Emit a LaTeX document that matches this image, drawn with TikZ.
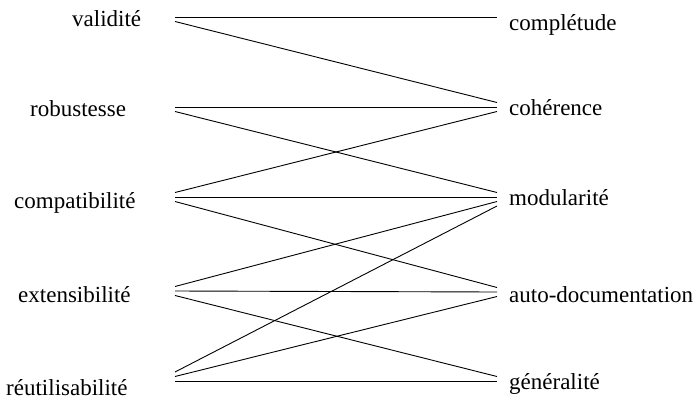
\documentclass[tikz,border=0pt]{standalone}
\usepackage{fontspec}
\setmainfont{Liberation Serif}
\usetikzlibrary{calc}
\tikzset{
  etiq/.style={font=\fontsize{23}{27}\selectfont,inner sep=0pt,anchor=base west},
  trait/.style={line width=0.9pt}
}
% lien du critere #1 (gauche) vers le facteur #2 (droite)
\newcommand{\lien}[2]{\draw[trait] ([yshift={-4.5pt*(#2-#1)}]g#1) -- ([yshift={-4.5pt*(#1-#2)}]d#2);}

\begin{document}
\begin{tikzpicture}[x=1pt,y=-1pt]
\useasboundingbox (0,0) rectangle (694,413);

% facteurs (gauche)
\node[etiq] (validite) at (72,26) {validité};
\node[etiq] (robustesse) at (30,116) {robustesse};
\node[etiq] (compatibilite) at (14,208) {compatibilité};
\node[etiq] (extensibilite) at (18,302) {extensibilité};
\node[etiq] (reutilisabilite) at (6,395) {réutilisabilité};

% criteres (droite)
\node[etiq] (completude) at (509,30) {complétude};
\node[etiq] (coherence) at (509,115) {cohérence};
\node[etiq] (modularite) at (509,205) {modularité};
\node[etiq] (autodoc) at (509,302) {auto-documentation};
\node[etiq] (generalite) at (509,389) {généralité};

% points d'attache
\coordinate (g1) at (175,17);
\coordinate (g2) at (175,107);
\coordinate (g3) at (175,197);
\coordinate (g4) at (175,291);
\coordinate (g5) at (175,381);
\coordinate (d1) at (497,17);
\coordinate (d2) at (497,107);
\coordinate (d3) at (497,197);
\coordinate (d4) at (497,292);
\coordinate (d5) at (497,381);

\foreach \i/\j in {1/1,1/2,2/2,2/3,3/2,3/3,3/4,4/3,4/4,4/5,5/3,5/4,5/5}{
  \lien{\i}{\j}
}
\end{tikzpicture}
\end{document}
